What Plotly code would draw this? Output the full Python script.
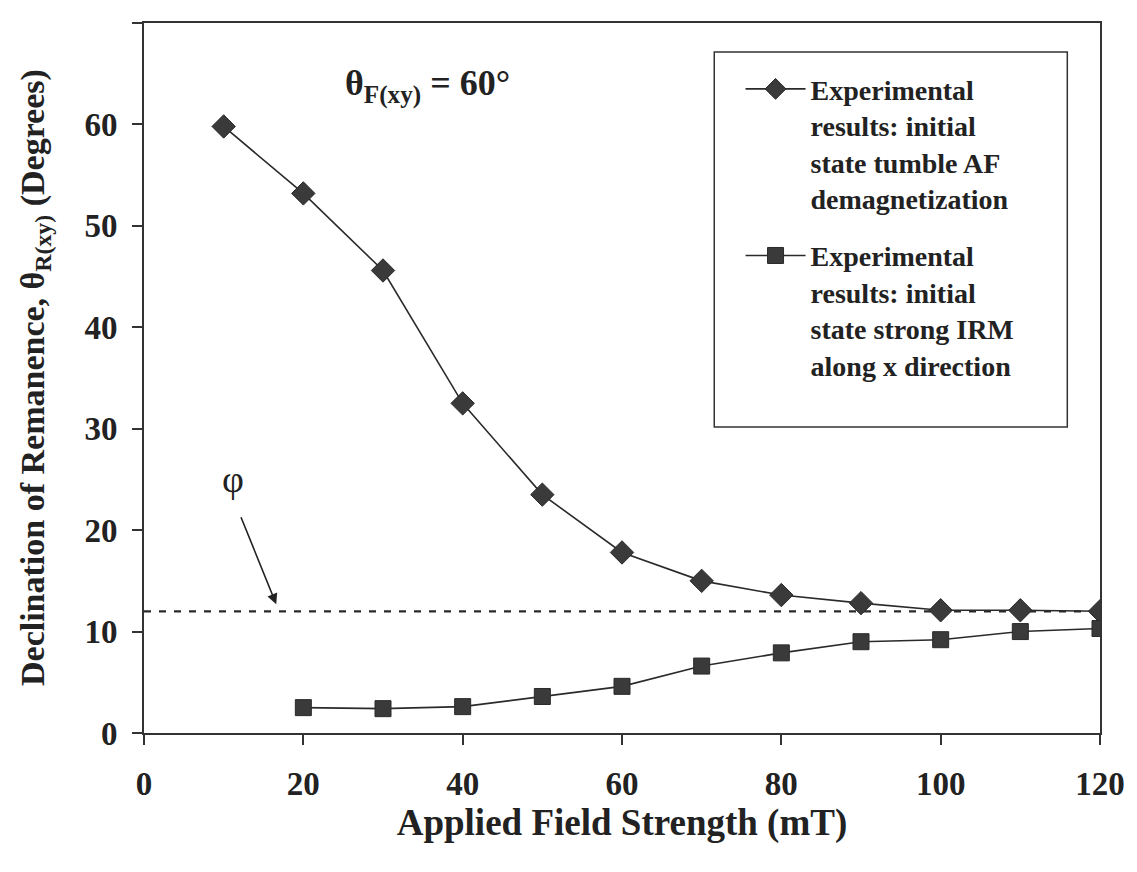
import plotly.graph_objects as go

field_mT = [10, 20, 30, 40, 50, 60, 70, 80, 90, 100, 110, 120]
tumble_af = [59.8, 53.2, 45.6, 32.5, 23.5, 17.8, 15.0, 13.6, 12.8, 12.1, 12.1, 12.0]

field_irm = [20, 30, 40, 50, 60, 70, 80, 90, 100, 110, 120]
strong_irm = [2.5, 2.4, 2.6, 3.6, 4.6, 6.6, 7.9, 9.0, 9.2, 10.0, 10.3]

phi_x = [0, 120]
phi_value = 12.0

x_ticks = [0, 20, 40, 60, 80, 100, 120]
y_ticks = [0, 10, 20, 30, 40, 50, 60, 70]

name_af = "Experimental<br>results: initial<br>state tumble AF<br>demagnetization"
name_irm = "Experimental<br>results: initial<br>state strong IRM<br>along x direction"

FONT = "Liberation Serif, Times New Roman, serif"
INK = "#222222"
MARK = "#3a3a3a"

fig = go.Figure()

fig.add_trace(go.Scatter(
    x=phi_x, y=[phi_value, phi_value], mode="lines",
    line=dict(color="#2a2a2a", width=2.2, dash="7px,8px"),
    showlegend=False, hoverinfo="skip"))

fig.add_trace(go.Scatter(
    x=field_mT, y=tumble_af, mode="lines+markers", name=name_af,
    legendgroup="a",
    line=dict(color="#2a2a2a", width=1.6),
    marker=dict(symbol="diamond", size=18, color=MARK,
                line=dict(color="#2a2a2a", width=1))))

fig.add_trace(go.Scatter(
    x=field_irm, y=strong_irm, mode="lines+markers", name=name_irm,
    legendgroup="b",
    line=dict(color="#2a2a2a", width=1.6),
    marker=dict(symbol="square", size=16, color=MARK,
                line=dict(color="#2a2a2a", width=1))))

fig.add_annotation(
    x=35.6, y=63.8, xref="x", yref="y",
    text="θ<sub>F(xy)</sub> = 60°", showarrow=False,
    font=dict(family=FONT, size=36, color=INK, weight="bold"))

fig.add_annotation(
    x=16.6, y=12.7, xref="x", yref="y",
    ax=11.8, ay=22.0, axref="x", ayref="y",
    text=" ", showarrow=True, arrowhead=2, arrowsize=1.3,
    arrowwidth=1.6, arrowcolor="#222222")
fig.add_annotation(
    x=11.2, y=25.0, xref="x", yref="y",
    text="φ", showarrow=False,
    font=dict(family=FONT, size=38, color=INK))

# y axis title
fig.add_annotation(
    x=-0.114, y=0.5, xref="paper", yref="paper",
    xanchor="center", yanchor="middle", textangle=-90,
    text="Declination of Remanence, θ<sub>R(xy)</sub> (Degrees)",
    showarrow=False,
    font=dict(family=FONT, size=34, color=INK, weight="bold"))

# legend frame
fig.add_shape(type="rect", xref="paper", yref="paper",
              x0=0.5965, x1=0.9658, y0=0.431, y1=0.959,
              line=dict(color="#333333", width=1.5), fillcolor="rgba(0,0,0,0)")

fig.update_layout(
    width=1129, height=864,
    margin=dict(l=136, r=31, t=15, b=139),
    paper_bgcolor="white", plot_bgcolor="white",
    font=dict(family=FONT, color=INK),
    legend=dict(
        x=0.624, y=0.942, xanchor="left", yanchor="top",
        borderwidth=0, bgcolor="rgba(0,0,0,0)",
        font=dict(family=FONT, size=28, color=INK, weight="bold"),
        valign="top", tracegroupgap=18, itemwidth=60),
    xaxis=dict(
        range=[0, 120], tickvals=x_ticks, ticks="outside", ticklen=10,
        tickwidth=1.5, tickcolor="#333333",
        showline=True, linecolor="#333333", linewidth=2, mirror=True,
        showgrid=False, zeroline=False, ticklabelstandoff=10,
        tickfont=dict(family=FONT, size=33, color=INK, weight="bold"),
        title=dict(text="Applied Field Strength (mT)", standoff=6,
                   font=dict(family=FONT, size=37, color=INK, weight="bold"))),
    yaxis=dict(
        range=[0, 70], tickvals=y_ticks, ticks="outside", ticklen=10,
        tickwidth=1.5, tickcolor="#333333",
        showline=True, linecolor="#333333", linewidth=2, mirror=True,
        showgrid=False, zeroline=False, ticklabelstandoff=8,
        tickfont=dict(family=FONT, size=33, color=INK, weight="bold")),
)

fig.write_html("out.html")
